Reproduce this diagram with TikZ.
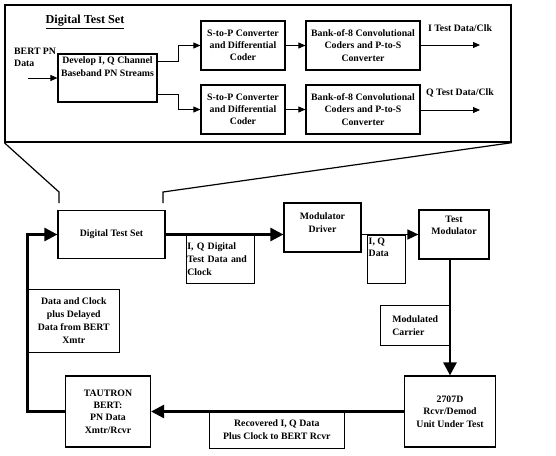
\documentclass[tikz,border=0pt]{standalone}
\usepackage{fontspec}
\setmainfont{Liberation Serif}
\usetikzlibrary{arrows.meta}
\begin{document}
\begin{tikzpicture}[x=1pt,y=-1pt,
    box/.style={draw, line width=1.2pt, align=center, inner sep=1pt,
      font=\bfseries\fontsize{9.8}{12.3}\selectfont},
    note/.style={draw, line width=0.6pt, inner sep=2pt,
      font=\bfseries\fontsize{9.8}{12.8}\selectfont},
    txt/.style={inner sep=1pt, align=center, font=\bfseries\fontsize{9.8}{12.3}\selectfont},
    wire/.style={line width=0.8pt, -{Triangle[length=7pt,width=6pt]}},
    link/.style={line width=1.6pt, -{Triangle[length=11pt,width=10pt]}},
    bus/.style={line width=2.6pt, -{Triangle[length=13pt,width=13pt]}}]
    \useasboundingbox (0,0) rectangle (556,455);

    % zoomed view of the digital test set
    \node[draw, line width=1.4pt, minimum width=506pt, minimum height=137pt] (frame) at (258,73.5) {};
    \node[font=\bfseries\fontsize{12.2}{14}\selectfont] (title) at (85,22) {\underline{Digital Test Set}};
    \node[txt, align=left, anchor=north west] (bertpn) at (13,46.5) {BERT PN\\Data};
    \coordinate (bertin) at (28,78);

    \node[box, minimum width=99pt, minimum height=48pt] (dev) at (107.5,78) {};
    \node[txt] (devtxt) at (107.5,66.5) {Develop I, Q Channel\\Baseband PN Streams};
    \node[box, minimum width=84pt, minimum height=49pt] (sp1) at (243,45.5) {S-to-P Converter\\and Differential\\Coder};
    \node[box, minimum width=114pt, minimum height=49pt] (bank1) at (363,45.5) {Bank-of-8 Convolutional\\Coders and P-to-S\\Converter};
    \node[box, minimum width=84pt, minimum height=49pt] (sp2) at (243,109.5) {S-to-P Converter\\and Differential\\Coder};
    \node[box, minimum width=114pt, minimum height=49pt] (bank2) at (363,109.5) {Bank-of-8 Convolutional\\Coders and P-to-S\\Converter};
    \coordinate (iout) at (480,45);
    \coordinate (qout) at (480,110);
    \node[txt] (ilbl) at (460,28) {I Test Data/Clk};
    \node[txt] (qlbl) at (460,93) {Q Test Data/Clk};

    \draw[wire] (bertin) -- (bertin -| dev.west);
    \draw[wire] ([yshift=17pt]dev.east) -- ++(21,0) |- (sp1.west);
    \draw[wire] ([yshift=-16pt]dev.east) -- ++(21,0) |- (sp2.west);
    \draw[wire] (sp1.east) -- (bank1.west);
    \draw[wire] (sp2.east) -- (bank2.west);
    \draw[wire] (bank1.east |- iout) -- (iout);
    \draw[wire] (bank2.east |- qout) -- (qout);

    % test loop
    \node[box, minimum width=107pt, minimum height=48pt] (dts) at (111.5,234.5) {Digital Test Set};
    \node[box, minimum width=77pt, minimum height=49pt] (md) at (322.5,227.5) {};
    \node[txt] (mdtxt) at (322.5,222.5) {Modulator\\Driver};
    \node[box, minimum width=70pt, minimum height=49pt] (tm) at (454,234.5) {};
    \node[txt] (tmtxt) at (454,225.5) {Test\\Modulator};
    \node[box, minimum width=91pt, minimum height=71pt] (rcvr) at (450,411.5) {2707D\\Rcvr/Demod\\Unit Under Test};
    \node[box, minimum width=85pt, minimum height=71pt] (bert) at (108,411.5) {TAUTRON\\BERT:\\PN Data\\Xmtr/Rcvr};

    \draw[line width=1.2pt] (frame.south west) -- (59,192) -- (59,203);
    \draw[line width=1.2pt] (frame.south east) -- (163,192) -- (163,203);

    \draw[bus] (dts.east) -- (dts.east -| md.west);
    \draw[link] (md.east |- tm.west) -- (tm.west);
    \draw[bus] (tm.south -| rcvr.north) -- (rcvr.north);
    \draw[bus] (rcvr.west) -- (bert.east);
    \draw[bus] (bert.west) -| ([xshift=-30pt]dts.west) -- (dts.west);

    \node[note, anchor=north west, text width=66pt, align=left, inner xsep=1pt, minimum height=48.5pt] (iqlbl) at (186,234.5) {I, Q Digital\\Test Data and\\Clock};
    \node[note, anchor=north west, minimum width=38pt, minimum height=48.5pt] (iqd) at (367,234.5) {};
    \node[txt, align=left, anchor=north west] (iqdtxt) at (367.5,237) {I, Q\\Data};
    \node[note, anchor=north east, minimum width=69pt, minimum height=40pt, align=left] (carrier) at (450,305) {Modulated\\Carrier};
    \node[note, anchor=north west, minimum width=91pt, minimum height=63pt, align=center] (loopnote) at (28,289) {Data and Clock\\plus Delayed\\Data from BERT\\Xmtr};
    \node[note, anchor=north west, minimum width=135pt, minimum height=36.5pt, align=center] (recnote) at (209,411.5) {Recovered I, Q Data\\Plus Clock to BERT Rcvr};
\end{tikzpicture}
\end{document}
